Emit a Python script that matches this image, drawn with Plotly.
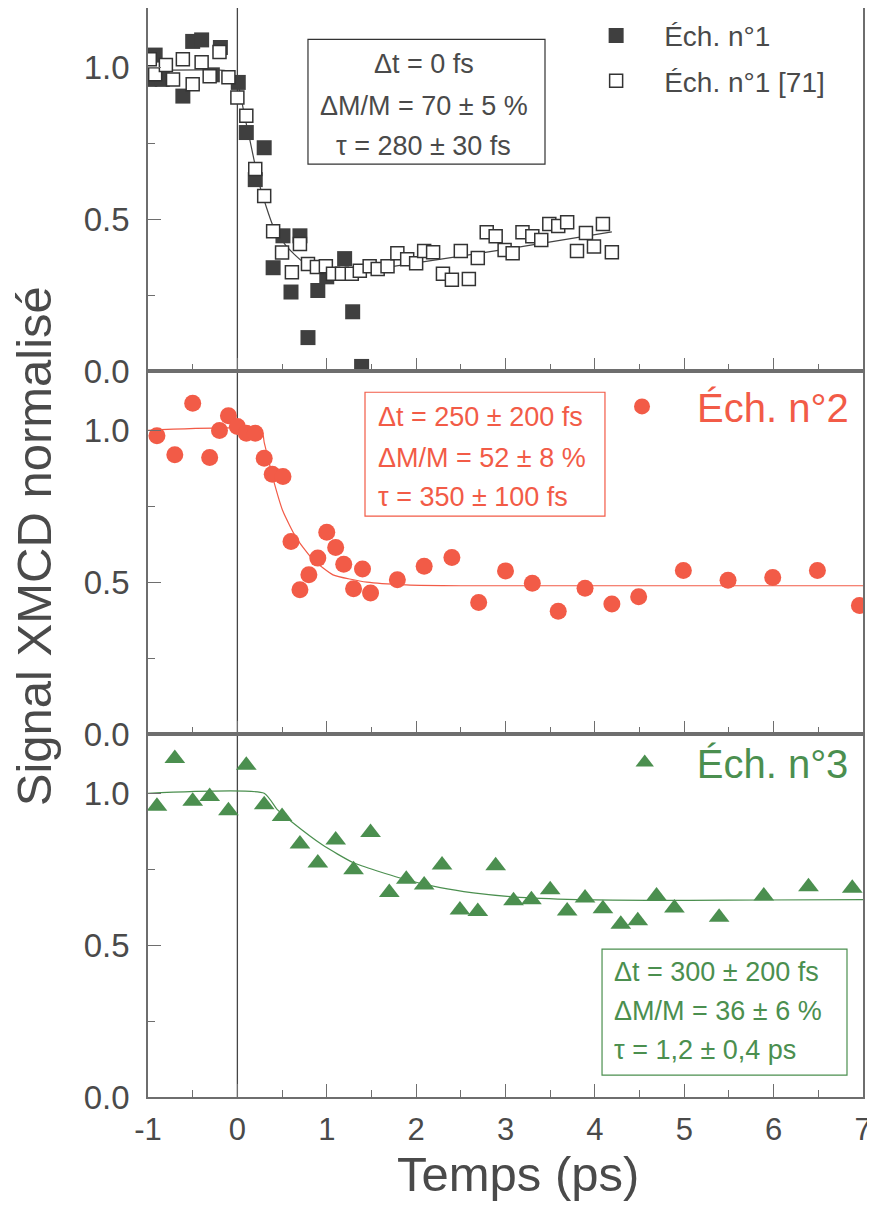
import plotly.graph_objects as go

# ---------------- data ----------------
# Panel 1 : Éch. n°1 (filled squares)
s1_x = [-0.98, -0.92, -0.84, -0.61, -0.50, -0.40, -0.28, -0.19, 0.01, 0.10, 0.20, 0.30,
        0.40, 0.51, 0.60, 0.70, 0.79, 0.90, 1.00, 1.20, 1.29, 1.39]
s1_y = [0.96, 1.04, 0.96, 0.905, 1.085, 1.09, 0.975, 1.065, 0.95, 0.785, 0.63, 0.735,
        0.34, 0.445, 0.26, 0.445, 0.11, 0.265, 0.31, 0.37, 0.195, 0.015]

# Panel 1 : Éch. n°1 [71] (open squares)
s1r_x = [-0.98, -0.92, -0.80, -0.72, -0.61, -0.50, -0.40, -0.31, -0.20, -0.10, 0.00, 0.10,
         0.20, 0.30, 0.40, 0.50, 0.61, 0.70, 0.79, 0.89, 0.99, 1.07, 1.17, 1.28, 1.37,
         1.48, 1.57, 1.68, 1.79, 1.90, 2.00, 2.09, 2.19, 2.30, 2.40, 2.50, 2.59, 2.69,
         2.79, 2.89, 2.99, 3.08, 3.19, 3.30, 3.40, 3.49, 3.59, 3.69, 3.80, 3.90, 3.99,
         4.09, 4.19]
s1r_y = [1.026, 0.977, 1.007, 0.96, 1.026, 0.944, 1.016, 0.97, 1.05, 0.967, 0.90, 0.84,
         0.665, 0.576, 0.46, 0.39, 0.325, 0.418, 0.352, 0.342, 0.345, 0.32, 0.32, 0.32, 0.33,
         0.345, 0.336, 0.345, 0.388, 0.368, 0.355, 0.395, 0.391, 0.32, 0.30, 0.395, 0.303, 0.372,
         0.457, 0.444, 0.398, 0.388, 0.457, 0.444, 0.431, 0.484, 0.477, 0.49, 0.395, 0.454, 0.41,
         0.484, 0.391]

fit1_x = [-1.0, -0.15, -0.05, 0.02, 0.08, 0.14, 0.25, 0.40, 0.55, 0.73, 0.96, 1.22, 1.60, 2.50, 3.30, 4.19]
fit1_y = [0.99, 0.99, 0.982, 0.93, 0.84, 0.76, 0.61, 0.477, 0.41, 0.36, 0.33, 0.322, 0.338, 0.378, 0.415, 0.458]

# Panel 2 : Éch. n°2 (circles)
s2_x = [-0.90, -0.70, -0.50, -0.31, -0.20, -0.10, 0.00, 0.10, 0.20, 0.30, 0.39, 0.51,
        0.60, 0.70, 0.80, 0.90, 1.00, 1.10, 1.19, 1.30, 1.40, 1.49, 1.79, 2.09, 2.40,
        2.70, 3.00, 3.30, 3.59, 3.89, 4.19, 4.49, 4.99, 5.49, 5.99, 6.49, 6.96]
s2_y = [0.982, 0.919, 1.089, 0.91, 0.999, 1.048, 1.012, 0.99, 0.99, 0.908, 0.855, 0.848,
        0.634, 0.475, 0.524, 0.579, 0.664, 0.614, 0.559, 0.478, 0.543, 0.464, 0.508, 0.552, 0.581,
        0.433, 0.537, 0.496, 0.404, 0.48, 0.428, 0.452, 0.538, 0.506, 0.515, 0.538, 0.423]

fit2_x = [-1.0, 0.27, 0.30, 0.35, 0.40, 0.51, 0.66, 0.85, 1.07, 1.45, 1.89, 2.50, 7.0]
fit2_y = [1.0, 1.0, 0.96, 0.90, 0.84, 0.733, 0.645, 0.573, 0.524, 0.50, 0.491, 0.488, 0.488]

# Panel 3 : Éch. n°3 (triangles)
s3_x = [-0.90, -0.70, -0.50, -0.31, -0.10, 0.10, 0.30, 0.50, 0.70, 0.90, 1.10, 1.30,
        1.49, 1.70, 1.89, 2.09, 2.29, 2.49, 2.69, 2.89, 3.09, 3.29, 3.50, 3.69, 3.89,
        4.09, 4.29, 4.48, 4.69, 4.89, 5.39, 5.89, 6.39, 6.88]
s3_y = [0.957, 1.114, 0.974, 0.989, 0.942, 1.092, 0.962, 0.923, 0.833, 0.77, 0.846, 0.748,
        0.871, 0.673, 0.717, 0.698, 0.764, 0.616, 0.611, 0.761, 0.646, 0.649, 0.682, 0.612, 0.655,
        0.62, 0.569, 0.58, 0.662, 0.622, 0.592, 0.662, 0.692, 0.687]

fit3_x = [-1.0, 0.30, 0.45, 0.61, 0.95, 1.30, 1.82, 2.27, 2.64, 3.09, 3.80, 4.60, 5.50, 7.0]
fit3_y = [1.0, 1.0, 0.945, 0.905, 0.83, 0.771, 0.721, 0.689, 0.672, 0.659, 0.65, 0.647, 0.648, 0.65]

x_ticks = [-1, 0, 1, 2, 3, 4, 5, 6, 7]
y_ticks = [0.0, 0.5, 1.0]

# ---------------- styles ----------------
GREY = "#4a4a4a"
AXC = "#6e6e6e"
RED = "#F25B47"
GREEN = "#4B8F4F"
FONT = "Arial, Liberation Sans, sans-serif"

fig = go.Figure()

# top panel (y)
fig.add_trace(go.Scatter(x=fit1_x, y=fit1_y, mode="lines", line=dict(color="#444444", width=1.2, shape="spline", smoothing=0.5),
                         xaxis="x", yaxis="y", showlegend=False, hoverinfo="skip"))
fig.add_trace(go.Scatter(x=s1_x, y=s1_y, mode="markers", name="Éch. n°1",
                         marker=dict(symbol="square", size=15, color="#3f3f3f", line=dict(width=0)),
                         xaxis="x", yaxis="y", legend="legend", legendgroup="a"))
fig.add_trace(go.Scatter(x=s1r_x, y=s1r_y, mode="markers", name="Éch. n°1 [71]",
                         marker=dict(symbol="square", size=13, color="white", line=dict(width=1.5, color="#333333")),
                         xaxis="x", yaxis="y", legend="legend", legendgroup="b"))

# middle panel (y2)
fig.add_trace(go.Scatter(x=fit2_x, y=fit2_y, mode="lines", line=dict(color=RED, width=1.2, shape="spline", smoothing=0.5),
                         xaxis="x2", yaxis="y2", showlegend=False, hoverinfo="skip"))
fig.add_trace(go.Scatter(x=s2_x, y=s2_y, mode="markers", name="Éch. n°2",
                         marker=dict(symbol="circle", size=17, color=RED, line=dict(width=0)),
                         xaxis="x2", yaxis="y2", legend="legend2"))

# bottom panel (y3)
fig.add_trace(go.Scatter(x=fit3_x, y=fit3_y, mode="lines", line=dict(color=GREEN, width=1.2, shape="spline", smoothing=0.5),
                         xaxis="x3", yaxis="y3", showlegend=False, hoverinfo="skip"))
fig.add_trace(go.Scatter(x=s3_x, y=s3_y, mode="markers", name="Éch. n°3",
                         marker=dict(symbol="triangle-up", size=18, color=GREEN, line=dict(width=0)),
                         xaxis="x3", yaxis="y3", legend="legend3"))

yr = [0, 1.195]
xr = [-1, 7]

def xax(anchor, labels):
    return dict(range=xr, anchor=anchor, domain=[0, 1], tickmode="array", tickvals=x_ticks,
                ticktext=[str(v) for v in x_ticks], ticks="inside", ticklen=13, tickwidth=1.3,
                tickcolor=AXC, showline=True, linecolor=AXC, linewidth=1.5, mirror=True,
                showgrid=False, zeroline=False, showticklabels=labels, automargin=False,
                tickfont=dict(family=FONT, size=31, color=GREY), ticklabelstandoff=4,
                minor=dict(dtick=0.5, tick0=0, ticks="inside", ticklen=7, tickwidth=1.3, tickcolor=AXC))

def yax(domain, anchor):
    return dict(range=yr, domain=domain, anchor=anchor, tickmode="array", tickvals=y_ticks,
                ticktext=["0.0", "0.5", "1.0"], ticks="inside", ticklen=13, tickwidth=1.3,
                tickcolor=AXC, showline=True, linecolor=AXC, linewidth=1.5, mirror=True,
                showgrid=False, zeroline=False, automargin=False,
                tickfont=dict(family=FONT, size=33, color=GREY), ticklabelstandoff=10,
                minor=dict(dtick=0.25, tick0=0, ticks="inside", ticklen=7, tickwidth=1.3, tickcolor=AXC))

# the page body adds an 8 px margin, so the figure is sized to fit the window
fig.update_layout(
    width=867, height=1203,
    margin=dict(l=140, r=12, t=0, b=114, autoexpand=False),
    paper_bgcolor="white", plot_bgcolor="white",
    font=dict(family=FONT, color=GREY),
    xaxis=xax("y", False),
    xaxis2=xax("y2", False),
    xaxis3=xax("y3", True),
    yaxis=yax([2/3, 1], "x"),
    yaxis2=yax([1/3, 2/3], "x2"),
    yaxis3=yax([0, 1/3], "x3"),
    legend=dict(x=0.5876, y=0.9975, xanchor="left", yanchor="top", bgcolor="rgba(0,0,0,0)",
                font=dict(family=FONT, size=28, color=GREY), itemwidth=86, traceorder="grouped",
                tracegroupgap=6, itemsizing="trace"),
    legend2=dict(x=0.614, y=0.664, xanchor="left", yanchor="top", bgcolor="rgba(0,0,0,0)",
                 font=dict(family=FONT, size=40, color=RED), itemwidth=100, itemsizing="trace"),
    legend3=dict(x=0.622, y=0.3370, xanchor="left", yanchor="top", bgcolor="rgba(0,0,0,0)",
                 font=dict(family=FONT, size=40, color=GREEN), itemwidth=94, itemsizing="trace"),
)

# vertical line at t = 0 across all panels
fig.add_shape(type="line", xref="x", yref="paper", x0=0, x1=0, y0=0, y1=1,
              line=dict(color="#454545", width=1.3), layer="below")

# annotation boxes
fig.add_shape(type="rect", xref="x", yref="y", x0=0.79, x1=3.442, y0=0.681, y1=1.092,
              line=dict(color="#333333", width=1.2), fillcolor="white", layer="above")
fig.add_shape(type="rect", xref="x2", yref="y2", x0=1.428, x1=4.113, y0=0.717, y1=1.125,
              line=dict(color=RED, width=1.2), fillcolor="rgba(0,0,0,0)")
fig.add_shape(type="rect", xref="x3", yref="y3", x0=4.080, x1=6.821, y0=0.072, y1=0.487,
              line=dict(color=GREEN, width=1.2), fillcolor="rgba(0,0,0,0)")

box1 = ["Δt = 0 fs", "ΔM/M = 70 ± 5 %", "τ = 280 ± 30 fs"]
box1_y = [1.010, 0.872, 0.740]
for t, yy in zip(box1, box1_y):
    fig.add_annotation(x=2.088, y=yy, xref="x", yref="y", text=t, showarrow=False,
                       xanchor="center", yanchor="middle", font=dict(family=FONT, size=27, color=GREY))

box2 = ["Δt = 250 ± 200 fs", "ΔM/M = 52 ± 8 %", "τ = 350 ± 100 fs"]
box2_y = [1.043, 0.908, 0.780]
for t, yy in zip(box2, box2_y):
    fig.add_annotation(x=1.55, y=yy, xref="x2", yref="y2", text=t, showarrow=False,
                       xanchor="left", yanchor="middle", font=dict(family=FONT, size=27, color=RED))

box3 = ["Δt = 300 ± 200 fs", "ΔM/M = 36 ± 6 %", "τ = 1,2 ± 0,4 ps"]
box3_y = [0.411, 0.283, 0.155]
for t, yy in zip(box3, box3_y):
    fig.add_annotation(x=4.19, y=yy, xref="x3", yref="y3", text=t, showarrow=False,
                       xanchor="left", yanchor="middle", font=dict(family=FONT, size=27, color=GREEN))

# axis titles
fig.add_annotation(x=-0.159, y=0.506, xref="paper", yref="paper", text="Signal XMCD normalisé",
                   textangle=-90, showarrow=False, xanchor="center", yanchor="middle",
                   font=dict(family=FONT, size=49, color=GREY))
fig.add_annotation(x=0.5175, y=-0.071, xref="paper", yref="paper", text="Temps (ps)",
                   showarrow=False, xanchor="center", yanchor="middle",
                   font=dict(family=FONT, size=49, color=GREY))

fig.write_html("out.html")
